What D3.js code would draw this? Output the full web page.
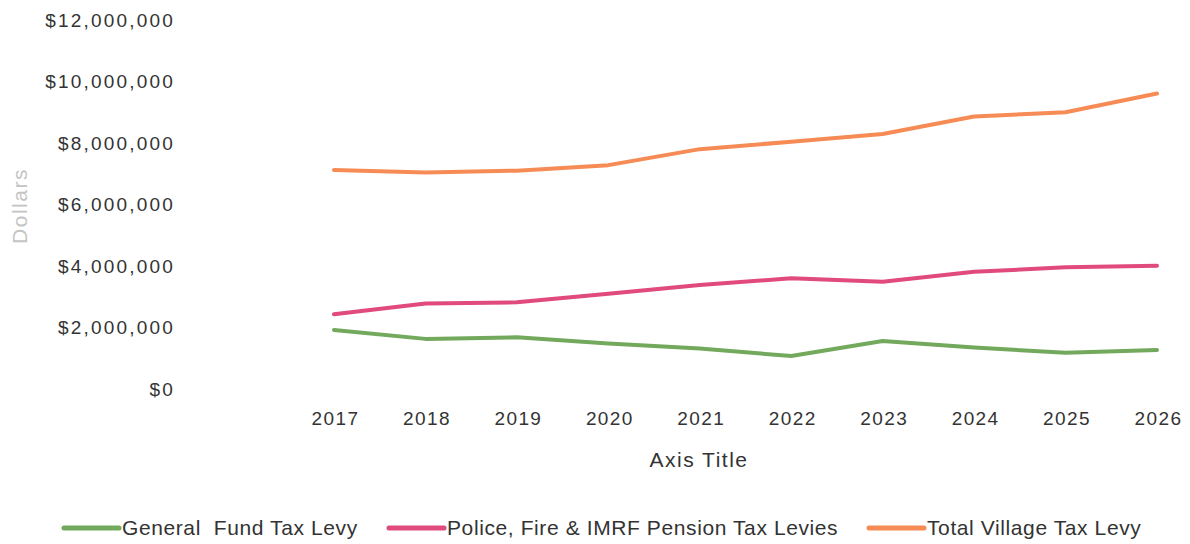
<!DOCTYPE html>
<html lang="en">
<head>
    <meta charset="UTF-8">
    <title>Tax Levy</title>
    <script src="https://cdn.jsdelivr.net/npm/d3@7"></script>
    <style>
        body { margin: 0; background: #fff; }
        text { font-family: "Liberation Sans", Arial, sans-serif; fill: #333; }
        .y-axis .tick text { font-size: 19px; letter-spacing: 2.2px; }
        .x-axis .tick text { font-size: 19px; letter-spacing: 1.4px; }
        .axis path, .axis line { display: none; }
        .series { fill: none; stroke-width: 4; stroke-linejoin: round; stroke-linecap: round; }
        .legend text { white-space: pre; }
    </style>
</head>
<body>
    <svg width="1190" height="544"></svg>
    <script>
        var years = ['2017', '2018', '2019', '2020', '2021', '2022', '2023', '2024', '2025', '2026'];
        var generalFund = [1920000, 1630000, 1680000, 1480000, 1320000, 1070000, 1560000, 1350000, 1180000, 1270000];
        var pension = [2430000, 2780000, 2820000, 3100000, 3380000, 3600000, 3490000, 3810000, 3960000, 4010000];
        var totalLevy = [7120000, 7040000, 7100000, 7280000, 7800000, 8040000, 8290000, 8860000, 9000000, 9610000];
        var yTicks = [0, 2000000, 4000000, 6000000, 8000000, 10000000, 12000000];

        var seriesList = [
            { name: 'General  Fund Tax Levy', values: generalFund, color: '#72a95c' },
            { name: 'Police, Fire & IMRF Pension Tax Levies', values: pension, color: '#e04a7d' },
            { name: 'Total Village Tax Levy', values: totalLevy, color: '#f78b55' }
        ];

        var svg = d3.select('svg');

        var xScale = d3.scalePoint().domain(years).range([334, 1157]),
            yScale = d3.scaleLinear().domain([0, 12000000]).range([389, 20]);

        var fmt = function(d) { return '$' + d3.format(',')(d); };

        svg.append('g')
            .classed('axis', true)
            .classed('y-axis', true)
            .attr('transform', 'translate(175,0)')
            .call(d3.axisLeft(yScale).tickValues(yTicks).tickFormat(fmt).tickSize(0).tickPadding(0));

        svg.append('g')
            .classed('axis', true)
            .classed('x-axis', true)
            .attr('transform', 'translate(1,408)')
            .call(d3.axisBottom(xScale).tickSize(0).tickPadding(4));

        svg.append('text')
            .attr('x', 699)
            .attr('y', 467)
            .attr('text-anchor', 'middle')
            .style('font-size', '21px')
            .style('letter-spacing', '1.5px')
            .text('Axis Title');

        svg.append('text')
            .attr('transform', 'translate(27,206) rotate(-90)')
            .attr('text-anchor', 'middle')
            .style('font-size', '21px')
            .style('fill', '#c4c4c4')
            .style('letter-spacing', '1.5px')
            .text('Dollars');

        var line = d3.line()
            .x(function(d, i) { return xScale(years[i]); })
            .y(function(d) { return yScale(d); });

        svg.selectAll('.series')
            .data(seriesList)
            .enter()
            .append('path')
            .classed('series', true)
            .attr('stroke', function(d) { return d.color; })
            .attr('d', function(d) { return line(d.values); });

        // legend
        var legendX = [64, 389, 869];
        var legend = svg.selectAll('.legend')
            .data(seriesList)
            .enter()
            .append('g')
            .classed('legend', true)
            .attr('transform', function(d, i) { return 'translate(' + legendX[i] + ',528)'; });

        legend.append('line')
            .attr('x1', 0).attr('x2', 55)
            .attr('stroke', function(d) { return d.color; })
            .attr('stroke-width', 5)
            .attr('stroke-linecap', 'round');

        legend.append('text')
            .attr('x', 58)
            .attr('y', 7)
            .style('font-size', '21px')
            .style('letter-spacing', '0.6px')
            .text(function(d) { return d.name; });
    </script>
</body>
</html>
